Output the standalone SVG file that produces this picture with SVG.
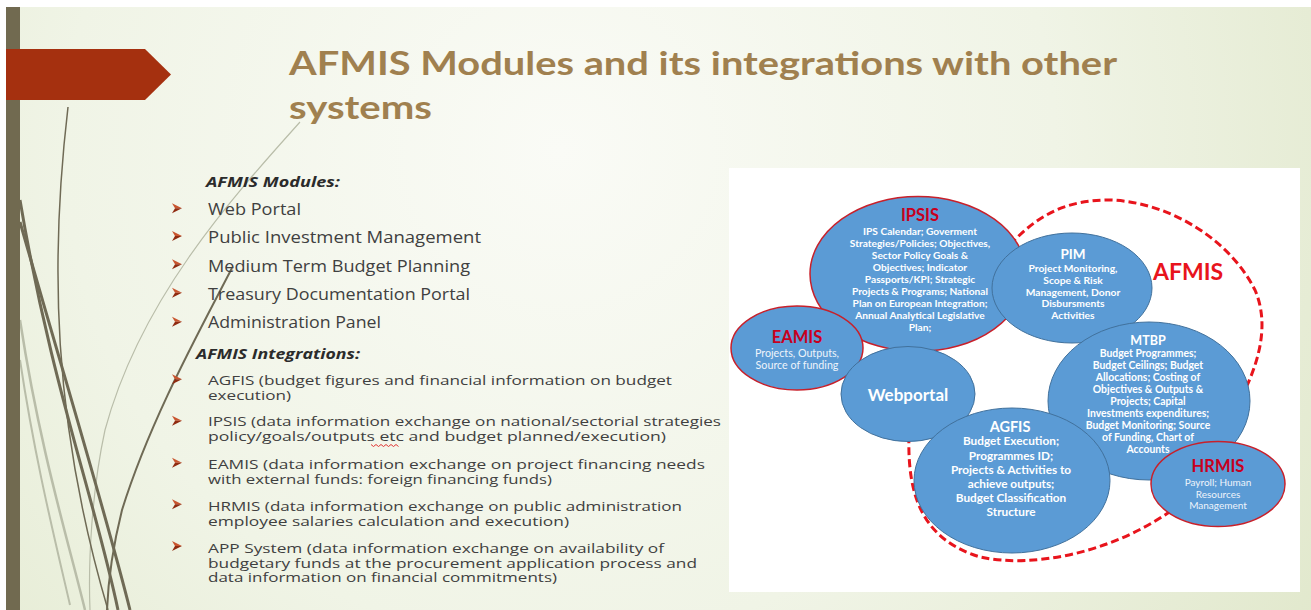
<svg xmlns="http://www.w3.org/2000/svg" width="1311" height="610" viewBox="0 0 1311 610">
<defs>
<radialGradient id="bg" cx="560" cy="150" r="900" gradientUnits="userSpaceOnUse">
<stop offset="0" stop-color="#fafbf6"/>
<stop offset="0.55" stop-color="#f0f4e6"/>
<stop offset="1" stop-color="#e1e8cc"/>
</radialGradient>
<g id="bul"><path d="M0,0 L10,5 L3,5 Z" fill="#c8542e"/><path d="M3,5 L10,5 L0,10 Z" fill="#8f2a10"/></g>
</defs>
<style>
.title{font-family:Lato,"Open Sans",sans-serif;font-weight:700;font-size:32px;fill:#a0804f}
.head{font-family:"Open Sans",sans-serif;font-weight:700;font-style:italic;font-size:15px;fill:#2b2b2b}
.mod{font-family:"Open Sans",sans-serif;font-size:17px;fill:#404040}
.int{font-family:"Open Sans",sans-serif;font-size:13.5px;fill:#404040}
.ell{fill:#5b9bd5}
.rb{stroke:#c8202a;stroke-width:1.5}
.bb{stroke:#41719c;stroke-width:1}
.rt{font-family:Lato,sans-serif;font-weight:700;fill:#c8001e;text-anchor:middle}
.wt{font-family:Lato,sans-serif;font-weight:700;fill:#ffffff;text-anchor:middle}
.wr{font-family:Lato,sans-serif;fill:#eef4fb;text-anchor:middle}
.dash{fill:none;stroke:#e8141c;stroke-width:3;stroke-dasharray:8 4}
.dk{fill:none;stroke:#6f6a55}
.lt{fill:none;stroke:#b9bda9}
</style>

<g id="background">
<rect width="1311" height="610" fill="#ffffff"/>
<rect x="6" y="7" width="1305" height="603" fill="url(#bg)"/>
<path class="lt" stroke-width="2.5" d="M20,320 C40,450 68,540 85,610"/>
<path class="lt" stroke-width="2" d="M20,360 C35,460 55,540 70,605"/>
<path class="lt" stroke-width="1.2" d="M300,122 C230,200 140,300 105,430 C92,490 88,560 90,610"/>
<path class="dk" stroke-width="3" d="M20,200 C50,380 95,500 118,610"/>
<path class="dk" stroke-width="3" d="M20,222 C65,380 105,510 130,610"/>
<path class="dk" stroke-width="1.5" d="M68,107 C50,260 52,420 108,610"/>
<path class="dk" stroke-width="2" d="M232,268 C200,330 150,420 122,510 C112,550 108,585 107,610"/>
<rect x="6" y="7" width="14" height="603" fill="#716a50"/>
<polygon points="6,49 145,49 171,74.5 145,100 6,100" fill="#a5300f"/>
<rect x="729" y="168" width="571" height="424" fill="#ffffff"/>
</g>

<g id="title">
<text class="title" x="289" y="75" textLength="828" lengthAdjust="spacingAndGlyphs">AFMIS Modules and its integrations with other</text>
<text class="title" x="289" y="119" textLength="143" lengthAdjust="spacingAndGlyphs">systems</text>
</g>

<g id="modules-list">
<text class="head" x="206" y="186.5" textLength="134" lengthAdjust="spacingAndGlyphs">AFMIS Modules:</text>
<use href="#bul" x="172" y="203.3"/>
<use href="#bul" x="172" y="231"/>
<use href="#bul" x="172" y="259.3"/>
<use href="#bul" x="172" y="287.7"/>
<use href="#bul" x="172" y="316.7"/>
<text class="mod" x="208" y="215" textLength="93" lengthAdjust="spacingAndGlyphs">Web Portal</text>
<text class="mod" x="208" y="243.3" textLength="273" lengthAdjust="spacingAndGlyphs">Public Investment Management</text>
<text class="mod" x="208" y="271.7" textLength="262" lengthAdjust="spacingAndGlyphs">Medium Term Budget Planning</text>
<text class="mod" x="208" y="300" textLength="262" lengthAdjust="spacingAndGlyphs">Treasury Documentation Portal</text>
<text class="mod" x="208" y="328.3" textLength="173" lengthAdjust="spacingAndGlyphs">Administration Panel</text>
</g>

<g id="integrations-list">
<text class="head" x="196" y="358.5" textLength="164" lengthAdjust="spacingAndGlyphs">AFMIS Integrations:</text>
<use href="#bul" x="172" y="374.3"/>
<use href="#bul" x="172" y="415.7"/>
<use href="#bul" x="172" y="457.7"/>
<use href="#bul" x="172" y="499.3"/>
<use href="#bul" x="172" y="541"/>
<text class="int" x="208" y="385" textLength="464" lengthAdjust="spacingAndGlyphs">AGFIS (budget figures and financial information on budget</text>
<text class="int" x="208" y="399.5" textLength="83" lengthAdjust="spacingAndGlyphs">execution)</text>
<text class="int" x="208" y="426" textLength="513" lengthAdjust="spacingAndGlyphs">IPSIS (data information exchange on national/sectorial strategies</text>
<text class="int" x="208" y="440.5" textLength="458" lengthAdjust="spacingAndGlyphs">policy/goals/outputs etc and budget planned/execution)</text>
<path d="M371,444.5 l2.5,2 l2.5,-2 l2.5,2 l2.5,-2 l2.5,2 l2.5,-2 l2.5,2 l2.5,-2 l2.5,2 l2.5,-2 l2.5,2" fill="none" stroke="#e02020" stroke-width="0.9"/>
<text class="int" x="208" y="469" textLength="497" lengthAdjust="spacingAndGlyphs">EAMIS (data information exchange on project financing needs</text>
<text class="int" x="208" y="483.5" textLength="344" lengthAdjust="spacingAndGlyphs">with external funds: foreign financing funds)</text>
<text class="int" x="208" y="511" textLength="474" lengthAdjust="spacingAndGlyphs">HRMIS (data information exchange on public administration</text>
<text class="int" x="208" y="525.5" textLength="361" lengthAdjust="spacingAndGlyphs">employee salaries calculation and execution)</text>
<text class="int" x="208" y="553" textLength="456" lengthAdjust="spacingAndGlyphs">APP System (data information exchange on availability of</text>
<text class="int" x="208" y="567.5" textLength="489" lengthAdjust="spacingAndGlyphs">budgetary funds at the procurement application process and</text>
<text class="int" x="208" y="582" textLength="349" lengthAdjust="spacingAndGlyphs">data information on financial commitments)</text>
</g>

<g id="connectors">
<path class="dash" d="M1010,245 C1040,212 1070,200 1110,200 C1170,202 1230,240 1255,290 C1268,320 1262,355 1244,392"/>
<path class="dash" d="M909,435 C907,500 925,540 980,557 C1030,568 1110,555 1175,508"/>
</g>

<g id="ipsis">
<ellipse class="ell rb" cx="918" cy="274" rx="108" ry="77.5"/>
<text class="rt" x="920" y="221" font-size="16.5">IPSIS</text>
<g class="wt" font-size="10.2">
<text x="920" y="235">IPS Calendar; Goverment</text>
<text x="920" y="247">Strategies/Policies; Objectives,</text>
<text x="920" y="259">Sector  Policy Goals &amp;</text>
<text x="920" y="271">Objectives; Indicator</text>
<text x="920" y="283">Passports/KPI; Strategic</text>
<text x="920" y="295">Projects &amp; Programs; National</text>
<text x="920" y="307">Plan on European Integration;</text>
<text x="920" y="319">Annual Analytical Legislative</text>
<text x="920" y="331">Plan;</text>
</g>
</g>

<g id="eamis">
<ellipse class="ell rb" cx="797" cy="348" rx="66" ry="42"/>
<text class="rt" x="797" y="343" font-size="16.5">EAMIS</text>
<text class="wr" x="797" y="357" font-size="10.7">Projects, Outputs,</text>
<text class="wr" x="797" y="369" font-size="10.7">Source of funding</text>
</g>

<g id="webportal">
<ellipse class="ell bb" cx="908" cy="394" rx="67" ry="47.5"/>
<text class="wt" x="908" y="401" font-size="17">Webportal</text>
</g>

<g id="pim">
<ellipse class="ell bb" cx="1072" cy="288" rx="80" ry="55"/>
<text class="wt" x="1073" y="259" font-size="13.5">PIM</text>
<g class="wt" font-size="10.3">
<text x="1073" y="271.5">Project Monitoring,</text>
<text x="1073" y="283.5">Scope &amp; Risk</text>
<text x="1073" y="295.5">Management, Donor</text>
<text x="1073" y="307">Disbursments</text>
<text x="1073" y="319">Activities</text>
</g>
</g>

<g id="afmis-label">
<text class="rt" x="1188" y="280" font-size="23" style="fill:#e8141c">AFMIS</text>
</g>

<g id="mtbp">
<ellipse class="ell bb" cx="1149" cy="401" rx="101" ry="79"/>
<text class="wt" x="1148" y="345" font-size="12.5">MTBP</text>
<g class="wt" font-size="10.4">
<text x="1148" y="356.5">Budget Programmes;</text>
<text x="1148" y="368.5">Budget Ceilings; Budget</text>
<text x="1148" y="380.5">Allocations; Costing of</text>
<text x="1148" y="392.5">Objectives &amp; Outputs &amp;</text>
<text x="1148" y="404.5">Projects; Capital</text>
<text x="1148" y="416.5">Investments expenditures;</text>
<text x="1148" y="428.5">Budget Monitoring; Source</text>
<text x="1148" y="440.5">of Funding, Chart of</text>
<text x="1148" y="452.5">Accounts</text>
</g>
</g>

<g id="agfis">
<ellipse class="ell bb" cx="1012" cy="480.5" rx="98" ry="72.5"/>
<text class="wt" x="1010" y="432" font-size="14.5">AGFIS</text>
<g class="wt" font-size="11.8">
<text x="1011" y="445">Budget Execution;</text>
<text x="1011" y="459.5">Programmes ID;</text>
<text x="1011" y="473.5">Projects &amp; Activities to</text>
<text x="1011" y="487.5">achieve outputs;</text>
<text x="1011" y="501.5">Budget Classification</text>
<text x="1011" y="515.5">Structure</text>
</g>
</g>

<g id="hrmis">
<ellipse class="ell rb" cx="1218" cy="484" rx="67" ry="42.5"/>
<text class="rt" x="1218" y="472" font-size="16.5">HRMIS</text>
<text class="wr" x="1218" y="486" font-size="10">Payroll; Human</text>
<text class="wr" x="1218" y="497.5" font-size="10">Resources</text>
<text class="wr" x="1218" y="509" font-size="10">Management</text>
</g>
</svg>
